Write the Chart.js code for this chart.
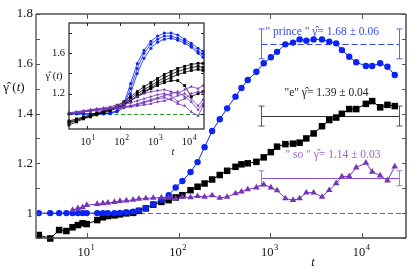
<!DOCTYPE html>
<html lang="en">
<head>
<meta charset="UTF-8">
<title>gamma hat (t)</title>
<style>
  body { margin: 0; background: #fff; }
  #wrap { position: relative; width: 416px; height: 277px; }
  #mainChart { position: absolute; left: 0; top: 0; }
  #insetChart { position: absolute; left: 40px; top: 18px; }
</style>
</head>
<body>
<div id="wrap">
  <canvas id="mainChart" width="416" height="277"></canvas>
  <canvas id="insetChart" width="175" height="145"></canvas>
</div>
<script src="https://cdn.jsdelivr.net/npm/chart.js"></script>
<script>
// main panel: time grid and the three series
const times = [3, 4, 5, 6, 7, 8, 9, 10, 13, 15, 17, 20, 23, 27, 32, 37, 44, 53, 65, 78,
  93, 110, 135, 161, 192, 232, 281, 338, 417, 484, 567, 704, 846, 1012, 1182, 1456, 1766, 2081, 2461, 2958,
  3648, 4375, 5212, 6010, 7227, 8610, 10970, 12850, 15700, 18840, 22630];
const princeVals = [1.0, 1.0, 1.0, 1.0, 1.0, 1.0, 1.0, 1.0, 1.0, 1.0, 1.0, 1.0, 1.001, 1.004, 1.006, 1.010, 1.020, 1.036, 1.054, 1.072,
  1.103, 1.129, 1.165, 1.205, 1.265, 1.330, 1.377, 1.421, 1.468, 1.503, 1.535, 1.568, 1.602, 1.626, 1.648, 1.678, 1.685, 1.698, 1.693, 1.698,
  1.698, 1.689, 1.682, 1.655, 1.628, 1.606, 1.591, 1.591, 1.602, 1.588, 1.555];
const eVals = [0.912, 0.898, 0.932, 0.928, 0.943, 0.952, 0.959, 0.956, 0.972, 0.983, 0.988, 0.991, 0.995, 0.999, 1.001, 1.009, 1.019, 1.034, 1.045, 1.052,
  1.063, 1.072, 1.092, 1.106, 1.119, 1.135, 1.153, 1.170, 1.186, 1.196, 1.200, 1.206, 1.224, 1.245, 1.267, 1.277, 1.279, 1.283, 1.300, 1.320,
  1.349, 1.374, 1.384, 1.399, 1.418, 1.418, 1.439, 1.450, 1.425, 1.435, 1.430];
const soVals = [null, null, null, null, 1.012, 1.019, 1.023, 1.032, 1.036, 1.039, 1.041, 1.044, 1.048, 1.050, 1.053, 1.057, 1.059, 1.061, 1.062, 1.061,
  1.058, 1.065, 1.063, 1.068, 1.065, 1.071, 1.061, 1.065, 1.079, 1.086, 1.095, 1.103, 1.115, 1.103, 1.091, 1.059, 1.052, 1.059, 1.082, 1.082,
  1.065, 1.092, 1.120, 1.147, 1.148, 1.183, 1.202, 1.166, 1.151, 1.131, 1.187];

// fitted plateaus
const fitNames = ['" prince "', '"e"', '" so "'];
const fitMeans = [1.68, 1.39, 1.14];
const fitErrs = [0.06, 0.04, 0.03];
const fitSpan = [800, 25000];
const refLevel = 1;

// main axes
const yTicks = [0.9, 1.0, 1.1, 1.2, 1.3, 1.4, 1.5, 1.6, 1.7, 1.8];
const yLabels = ['1', '1.2', '1.4', '1.6', '1.8'];
const yLabelVals = [1, 1.2, 1.4, 1.6, 1.8];
const xTicks = [10, 100, 1000, 10000];
const xExps = ['1', '2', '3', '4'];

// inset: several runs per text
const insetTimes = [3, 5, 8, 13, 20, 32, 50, 80, 126, 200, 316, 500, 800, 1260, 2000, 3160, 5000, 8000, 12600, 20000, 28000];
const insetBlue1 = [1.0, 1.0, 1.0, 1.0, 1.0, 1.0, 1.01, 1.03, 1.10, 1.30, 1.50, 1.63, 1.72, 1.77, 1.80, 1.80, 1.78, 1.74, 1.70, 1.65, 1.62];
const insetBlue2 = [1.0, 1.0, 1.0, 1.0, 1.0, 1.0, 1.01, 1.03, 1.08, 1.25, 1.45, 1.60, 1.69, 1.74, 1.77, 1.77, 1.75, 1.72, 1.68, 1.62, 1.59];
const insetBlue3 = [1.0, 1.0, 1.0, 1.0, 1.0, 1.0, 1.0, 1.02, 1.06, 1.20, 1.40, 1.55, 1.65, 1.71, 1.74, 1.75, 1.73, 1.70, 1.66, 1.60, 1.56];
const insetBlack1 = [0.93, 0.95, 0.97, 0.99, 1.01, 1.03, 1.05, 1.08, 1.12, 1.17, 1.22, 1.27, 1.31, 1.35, 1.39, 1.42, 1.45, 1.47, 1.49, 1.50, 1.50];
const insetBlack2 = [0.91, 0.93, 0.96, 0.98, 1.00, 1.02, 1.04, 1.07, 1.10, 1.15, 1.20, 1.24, 1.28, 1.32, 1.36, 1.39, 1.42, 1.44, 1.46, 1.47, 1.46];
const insetBlack3 = [0.89, 0.92, 0.95, 0.97, 0.99, 1.01, 1.03, 1.06, 1.09, 1.13, 1.18, 1.22, 1.26, 1.30, 1.33, 1.36, 1.39, 1.41, 1.43, 1.44, 1.43];
const insetBlack4 = [0.92, 0.94, 0.96, 0.98, 1.00, 1.02, 1.04, 1.06, 1.09, 1.13, 1.17, 1.21, 1.25, 1.28, 1.31, 1.33, 1.33, 1.28, 1.17, 1.20, 1.22];
const insetPurple1 = [1.01, 1.02, 1.03, 1.04, 1.05, 1.06, 1.07, 1.09, 1.11, 1.14, 1.17, 1.20, 1.22, 1.23, 1.24, 1.22, 1.20, 1.24, 1.27, 1.25, 1.28];
const insetPurple2 = [1.00, 1.01, 1.02, 1.03, 1.04, 1.05, 1.06, 1.07, 1.09, 1.11, 1.13, 1.15, 1.17, 1.19, 1.20, 1.18, 1.12, 1.15, 1.20, 1.22, 1.21];
const insetPurple3 = [1.00, 1.01, 1.02, 1.03, 1.04, 1.05, 1.06, 1.06, 1.07, 1.08, 1.09, 1.11, 1.13, 1.15, 1.16, 1.14, 1.10, 1.08, 1.02, 0.98, 1.08];
const insetPurple4 = [1.01, 1.02, 1.03, 1.04, 1.05, 1.05, 1.06, 1.06, 1.07, 1.08, 1.10, 1.12, 1.14, 1.16, 1.18, 1.20, 1.22, 1.17, 1.12, 1.04, 1.10];
const insetPurple5 = [1.00, 1.01, 1.02, 1.03, 1.03, 1.04, 1.05, 1.05, 1.06, 1.07, 1.08, 1.09, 1.10, 1.12, 1.13, 1.15, 1.18, 1.20, 1.15, 1.08, 1.14];
const insetYTicks = [1.0, 1.2, 1.4, 1.6, 1.8];
const insetYLabelVals = [1.2, 1.6];
const insetYLabels = ['1.2', '1.6'];

// colours
const BLUE = '#0b24f2';
const BLACK = '#000000';
const PURPLE = '#7434b8';
const GREEN = '#2e962e';
const fitLineColors = ['#3246f0', '#333333', '#8a4fd0'];
const fitBarColors = ['#5866f2', '#555555', '#a477e0'];
const fitTextColors = ['#3a4cf0', '#222222', '#9a62d4'];
const SERIF = '"Liberation Serif", "DejaVu Serif", serif';

function line(ctx, x1, y1, x2, y2) {
  ctx.beginPath(); ctx.moveTo(x1, y1); ctx.lineTo(x2, y2); ctx.stroke();
}

// draw text made of runs with different fonts
function runs(ctx, parts, x, y, align) {
  let w = 0;
  parts.forEach(p => { ctx.font = p[1]; w += ctx.measureText(p[0]).width; });
  let cx = align === 'center' ? x - w / 2 : (align === 'right' ? x - w : x);
  ctx.textAlign = 'left';
  parts.forEach(p => { ctx.font = p[1]; ctx.fillText(p[0], cx, y); cx += ctx.measureText(p[0]).width; });
}

function powLabel(ctx, cx, baseY, exp, big, small) {
  ctx.font = big + 'px ' + SERIF;
  const w1 = ctx.measureText('10').width;
  ctx.font = small + 'px ' + SERIF;
  const w2 = ctx.measureText(exp).width;
  const left = cx - (w1 + w2) / 2;
  ctx.textBaseline = 'alphabetic'; ctx.textAlign = 'left';
  ctx.font = big + 'px ' + SERIF;
  ctx.fillText('10', left, baseY);
  ctx.font = small + 'px ' + SERIF;
  ctx.fillText(exp, left + w1 + 0.5, baseY - big * 0.45);
}

function series(xs, ys, color, style, r, bw) {
  return {
    data: xs.map((t, i) => ({ x: t, y: ys[i] })).filter(p => p.y !== null),
    borderColor: color, backgroundColor: color, borderWidth: bw,
    pointStyle: style, pointRadius: r, pointBorderWidth: 0, pointHoverRadius: r,
    tension: 0, clip: false
  };
}

const mainDecor = {
  id: 'mainDecor',
  beforeDatasetsDraw(chart) {
    const { ctx, chartArea: a, scales: { x, y } } = chart;
    ctx.save();
    ctx.lineWidth = 1;
    ctx.strokeStyle = GREEN;
    ctx.setLineDash([5, 3]);
    const y1 = Math.round(y.getPixelForValue(refLevel)) + 0.5;
    line(ctx, a.left, y1, a.right, y1);
    const xa = Math.round(x.getPixelForValue(fitSpan[0])) + 0.5;
    const xb = Math.round(x.getPixelForValue(fitSpan[1])) + 0.5;
    fitMeans.forEach((m, i) => {
      const ym = Math.round(y.getPixelForValue(m)) + 0.5;
      const yl = y.getPixelForValue(m - fitErrs[i]);
      const yh = y.getPixelForValue(m + fitErrs[i]);
      ctx.strokeStyle = fitLineColors[i];
      ctx.setLineDash(i === 0 ? [6, 3] : []);
      line(ctx, xa, ym, xb, ym);
      ctx.setLineDash([]);
      ctx.strokeStyle = fitBarColors[i];
      [xa, xb].forEach(xx => {
        line(ctx, xx, yl, xx, yh);
        line(ctx, xx - 3, yl, xx + 3, yl);
        line(ctx, xx - 3, yh, xx + 3, yh);
      });
    });
    ctx.restore();
  },
  afterDraw(chart) {
    const { ctx, chartArea: a, scales: { x, y } } = chart;
    ctx.save();
    // frame
    ctx.lineWidth = 1.8;
    ctx.strokeStyle = '#7d7d7d';
    line(ctx, a.left, a.bottom, a.left, a.top);
    line(ctx, a.left, a.top, a.right, a.top);
    ctx.lineWidth = 1.4;
    ctx.strokeStyle = '#3c3c3c';
    line(ctx, a.right, a.top, a.right, a.bottom);
    line(ctx, a.left, a.bottom, a.right, a.bottom);
    // ticks
    ctx.lineWidth = 1;
    ctx.strokeStyle = '#555';
    yTicks.forEach(v => {
      const py = Math.round(y.getPixelForValue(v)) + 0.5;
      line(ctx, a.left, py, a.left + 4, py);
      line(ctx, a.right - 4, py, a.right, py);
    });
    xTicks.forEach(t => {
      const px = Math.round(x.getPixelForValue(t)) + 0.5;
      line(ctx, px, a.bottom, px, a.bottom - 5);
      line(ctx, px, a.top, px, a.top + 5);
    });
    // tick labels
    ctx.fillStyle = '#111';
    ctx.textBaseline = 'middle';
    yLabelVals.forEach((v, i) => {
      ctx.font = '13px ' + SERIF;
      ctx.textAlign = 'right';
      ctx.fillText(yLabels[i], a.left - 3, y.getPixelForValue(v));
    });
    xTicks.forEach((t, i) => powLabel(ctx, x.getPixelForValue(t) - 1, 256, xExps[i], 12.5, 8.5));
    // axis titles
    ctx.textBaseline = 'middle';
    runs(ctx, [['\u03B3\u0302 (', '13px ' + SERIF], ['t', 'italic 13px ' + SERIF], [')', '13px ' + SERIF]], 14, 88, 'center');
    runs(ctx, [['t', 'italic 12.5px ' + SERIF]], (a.left + a.right) / 2 + 92, 263, 'center');
    // plateau labels
    const xa = x.getPixelForValue(fitSpan[0]);
    const textDx = [4, 23, 24];
    const textDy = [12, 23, 23];
    fitMeans.forEach((m, i) => {
      ctx.fillStyle = fitTextColors[i];
      const txt = fitNames[i] + ' \u03B3\u0302= ' + m.toFixed(2) + ' \u00B1 ' + fitErrs[i].toFixed(2);
      runs(ctx, [[txt, '11.5px ' + SERIF]], xa + textDx[i], y.getPixelForValue(m) - textDy[i], 'left');
    });
    ctx.restore();
  }
};

const insetDecor = {
  id: 'insetDecor',
  beforeDatasetsDraw(chart) {
    const { ctx, chartArea: a, scales: { x, y } } = chart;
    ctx.save();
    ctx.fillStyle = '#fff';
    ctx.fillRect(a.left, a.top, a.right - a.left, a.bottom - a.top);
    ctx.strokeStyle = GREEN;
    ctx.lineWidth = 1;
    ctx.setLineDash([4, 2.5]);
    const y1 = Math.round(y.getPixelForValue(refLevel)) + 0.5;
    line(ctx, a.left, y1, a.right, y1);
    ctx.restore();
  },
  afterDraw(chart) {
    const { ctx, chartArea: a, scales: { x, y } } = chart;
    ctx.save();
    ctx.lineWidth = 1.2;
    ctx.strokeStyle = '#222';
    ctx.strokeRect(a.left, a.top, a.right - a.left, a.bottom - a.top);
    ctx.lineWidth = 1;
    insetYTicks.forEach(v => {
      const py = Math.round(y.getPixelForValue(v)) + 0.5;
      line(ctx, a.left, py, a.left + 3, py);
      line(ctx, a.right - 3, py, a.right, py);
    });
    xTicks.forEach(t => {
      const px = Math.round(x.getPixelForValue(t)) + 0.5;
      line(ctx, px, a.bottom, px, a.bottom - 3);
      line(ctx, px, a.top, px, a.top + 3);
    });
    ctx.fillStyle = '#111';
    ctx.textBaseline = 'middle';
    ctx.textAlign = 'right';
    ctx.font = '10.5px ' + SERIF;
    insetYLabelVals.forEach((v, i) => ctx.fillText(insetYLabels[i], a.left - 4, y.getPixelForValue(v)));
    xTicks.forEach((t, i) => powLabel(ctx, x.getPixelForValue(t) + 1, 127, xExps[i], 10.5, 7.5));
    ctx.textBaseline = 'middle';
    runs(ctx, [['\u03B3\u0302 (', '10.5px ' + SERIF], ['t', 'italic 10.5px ' + SERIF], [')', '10.5px ' + SERIF]], 14, 58, 'center');
    runs(ctx, [['t', 'italic 10.5px ' + SERIF]], 133, 134, 'center');
    ctx.restore();
  }
};

new Chart(document.getElementById('mainChart'), {
  type: 'line',
  data: {
    datasets: [
      series(times, soVals, PURPLE, 'triangle', 3.8, 1),
      series(times, princeVals, BLUE, 'circle', 3.2, 1),
      series(times, eVals, BLACK, 'rect', 4.6, 1)
    ]
  },
  options: {
    responsive: false, animation: false, devicePixelRatio: 1,
    layout: { padding: { left: 36, right: 10, top: 14, bottom: 39 }, autoPadding: false },
    plugins: { legend: { display: false }, tooltip: { enabled: false } },
    scales: {
      x: { type: 'logarithmic', min: 2.8, max: 30000, display: false },
      y: { type: 'linear', min: 0.9, max: 1.8, display: false }
    }
  },
  plugins: [mainDecor]
});

new Chart(document.getElementById('insetChart'), {
  type: 'line',
  data: {
    datasets: [
      series(insetTimes, insetPurple1, PURPLE, 'triangle', 1.8, 0.8),
      series(insetTimes, insetPurple2, PURPLE, 'triangle', 1.8, 0.8),
      series(insetTimes, insetPurple3, PURPLE, 'triangle', 1.8, 0.8),
      series(insetTimes, insetPurple4, PURPLE, 'triangle', 1.8, 0.8),
      series(insetTimes, insetPurple5, PURPLE, 'triangle', 1.8, 0.8),
      series(insetTimes, insetBlack1, BLACK, 'rect', 2, 0.8),
      series(insetTimes, insetBlack2, BLACK, 'rect', 2, 0.8),
      series(insetTimes, insetBlack3, BLACK, 'rect', 2, 0.8),
      series(insetTimes, insetBlack4, BLACK, 'rect', 2, 0.8),
      series(insetTimes, insetBlue1, BLUE, 'circle', 1.5, 0.8),
      series(insetTimes, insetBlue2, BLUE, 'circle', 1.5, 0.8),
      series(insetTimes, insetBlue3, BLUE, 'circle', 1.5, 0.8)
    ]
  },
  options: {
    responsive: false, animation: false, devicePixelRatio: 1,
    layout: { padding: { left: 29, right: 11, top: 5, bottom: 34 }, autoPadding: false },
    plugins: { legend: { display: false }, tooltip: { enabled: false } },
    scales: {
      x: { type: 'logarithmic', min: 3, max: 30000, display: false },
      y: { type: 'linear', min: 0.85, max: 1.9, display: false }
    }
  },
  plugins: [insetDecor]
});
</script>
</body>
</html>
